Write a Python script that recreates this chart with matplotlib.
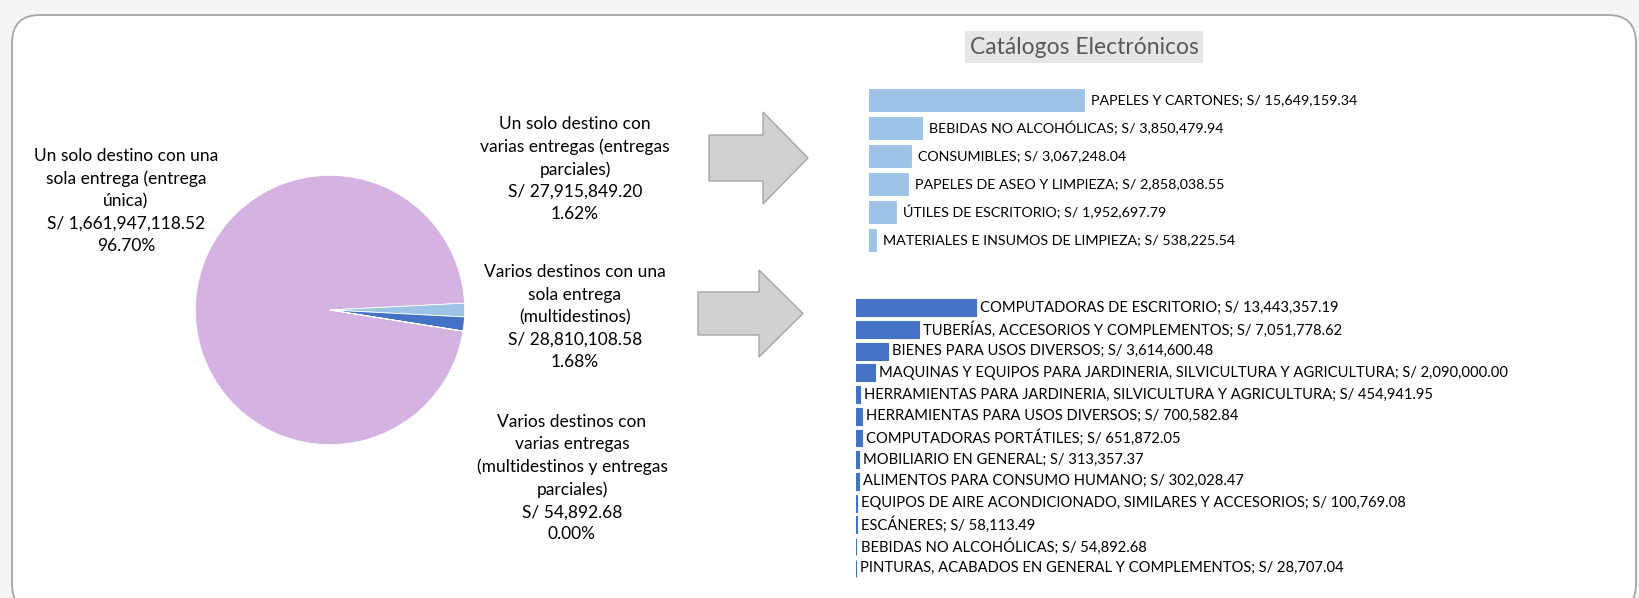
import matplotlib.pyplot as plt
from matplotlib.patches import FancyBboxPatch, Polygon

plt.rcParams['font.family'] = ['Lato', 'DejaVu Sans']

# pie data
pie_names = ['Un solo destino con una\nsola entrega (entrega\núnica)',
             'Un solo destino con\nvarias entregas (entregas\nparciales)',
             'Varios destinos con una\nsola entrega\n(multidestinos)',
             'Varios destinos con\nvarias entregas\n(multidestinos y entregas\nparciales)']
pie_values = [1661947118.52, 27915849.20, 28810108.58, 54892.68]
pie_colors = ['#d4b3e3', '#9dc3e6', '#4472c4', '#a5a5a5']

# catalogos - un solo destino con varias entregas
top_cats = ['PAPELES Y CARTONES', 'BEBIDAS NO ALCOHÓLICAS', 'CONSUMIBLES',
            'PAPELES DE ASEO Y LIMPIEZA', 'ÚTILES DE ESCRITORIO',
            'MATERIALES E INSUMOS DE LIMPIEZA']
top_vals = [15649159.34, 3850479.94, 3067248.04, 2858038.55, 1952697.79, 538225.54]

# catalogos - varios destinos con una sola entrega
bot_cats = ['COMPUTADORAS DE ESCRITORIO', 'TUBERÍAS, ACCESORIOS Y COMPLEMENTOS',
            'BIENES PARA USOS DIVERSOS',
            'MAQUINAS Y EQUIPOS PARA JARDINERIA, SILVICULTURA Y AGRICULTURA',
            'HERRAMIENTAS PARA JARDINERIA, SILVICULTURA Y AGRICULTURA',
            'HERRAMIENTAS PARA USOS DIVERSOS', 'COMPUTADORAS PORTÁTILES',
            'MOBILIARIO EN GENERAL', 'ALIMENTOS PARA CONSUMO HUMANO',
            'EQUIPOS DE AIRE ACONDICIONADO, SIMILARES Y ACCESORIOS',
            'ESCÁNERES', 'BEBIDAS NO ALCOHÓLICAS',
            'PINTURAS, ACABADOS EN GENERAL Y COMPLEMENTOS']
bot_vals = [13443357.19, 7051778.62, 3614600.48, 2090000.00, 454941.95,
            700582.84, 651872.05, 313357.37, 302028.47, 100769.08,
            58113.49, 54892.68, 28707.04]

W, H = 1640, 598
fig = plt.figure(figsize=(W / 100, H / 100), dpi=100)
fig.patch.set_facecolor('#f5f5f5')
T = fig.dpi_scale_trans


def P(x, y):
    # pixel (from top-left) -> inches for dpi_scale_trans
    return x / 100, (H - y) / 100


def add_ax(left, top, width, height):
    return fig.add_axes([left / W, 1 - (top + height) / H, width / W, height / H])


# rounded frame
x0, y0 = P(12, 612)
box = FancyBboxPatch((x0, y0), 16.24, 5.97, boxstyle='round,pad=0,rounding_size=0.28',
                     transform=T, facecolor='white', edgecolor='#a6a6a6', lw=1.3, zorder=-5)
fig.patches.append(box)

# pie
ax = add_ax(194, 174, 272, 272)
ax.pie(pie_values, colors=pie_colors, startangle=351, counterclock=False,
       wedgeprops=dict(edgecolor='white', linewidth=0.6))
ax.set_xlim(-1.01, 1.01)
ax.set_ylim(-1.01, 1.01)
ax.set_aspect('equal')

pct = [v / sum(pie_values) * 100 for v in pie_values]
label_pos = [(126, 201), (575, 169), (575, 317), (572, 478)]
for name, v, p, (lx, ly) in zip(pie_names, pie_values, pct, label_pos):
    fig.text(*P(lx, ly), f'{name}\nS/ {v:,.2f}\n{p:.2f}%', transform=T,
             ha='center', va='center', fontsize=12.5, linespacing=1.48, color='black')

# arrows
arrows = [(709, 763, 135, 181, 808, 112, 204), (698, 759, 292, 335, 803, 270, 357)]
for xs, xh, ys0, ys1, xt, yh0, yh1 in arrows:
    pts = [P(xs, ys0), P(xh, ys0), P(xh, yh0), P(xt, (yh0 + yh1) / 2),
           P(xh, yh1), P(xh, ys1), P(xs, ys1)]
    fig.patches.append(Polygon(pts, closed=True, transform=T, facecolor='#d0d0d0',
                               edgecolor='#a6a6a6', lw=1.0, zorder=1))

# title
fig.text(*P(1084, 47), 'Catálogos Electrónicos', transform=T, ha='center', va='center',
         fontsize=16.5, color='#595959',
         bbox=dict(boxstyle='square,pad=0.22', facecolor='#e7e6e6', edgecolor='none'))

# top bars
ax1 = add_ax(869, 86, 700, 168)
b = ax1.barh(range(len(top_cats)), top_vals, height=0.79, color='#9dc3e6',
             edgecolor='#9dc3e6', linewidth=0.6)
ax1.bar_label(b, labels=[f'{c}; S/ {v:,.2f}' for c, v in zip(top_cats, top_vals)],
              padding=5, fontsize=10.3, color='black')
ax1.set_xlim(0, 700 / 13.74e-6)
ax1.set_ylim(len(top_cats) - 0.5, -0.5)
ax1.axis('off')

# bottom bars
ax2 = add_ax(856, 297, 700, 282)
b = ax2.barh(range(len(bot_cats)), bot_vals, height=0.78, color='#4472c4',
             edgecolor='#4472c4', linewidth=0.8)
ax2.bar_label(b, labels=[f'{c}; S/ {v:,.2f}' for c, v in zip(bot_cats, bot_vals)],
              padding=3, fontsize=10.6, color='black')
ax2.set_xlim(0, 700 / 8.93e-6)
ax2.set_ylim(len(bot_cats) - 0.5, -0.5)
ax2.axis('off')

fig.savefig('out.png', dpi=100, facecolor=fig.get_facecolor())
